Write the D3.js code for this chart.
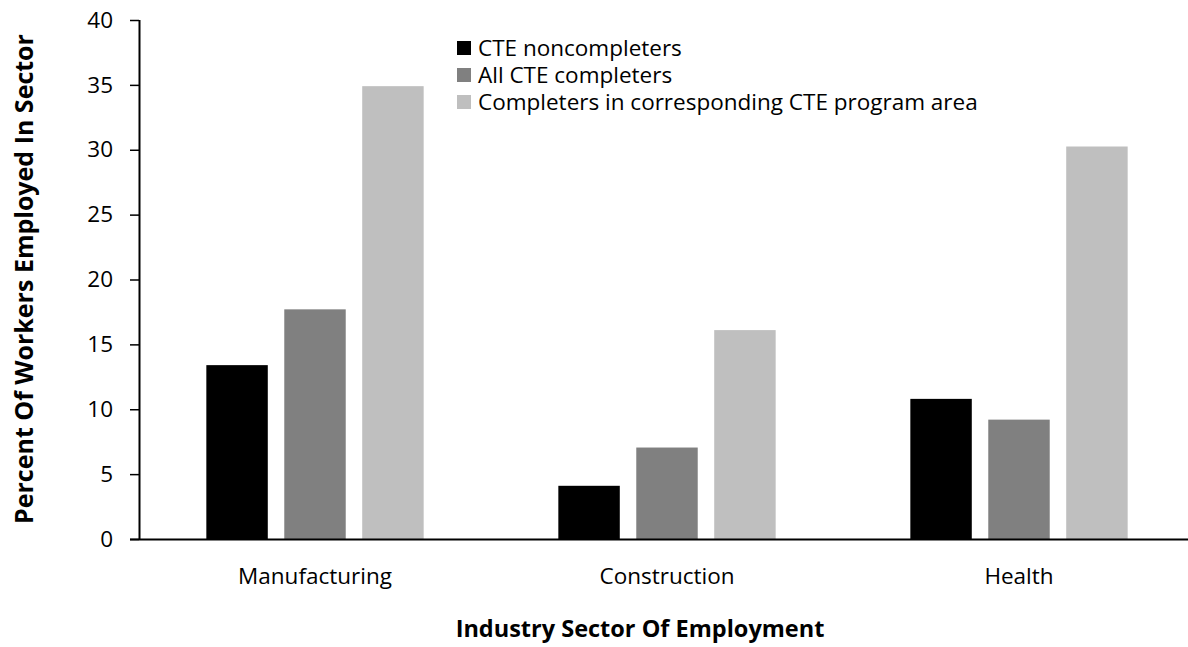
<!DOCTYPE html>
<html>
<head>
<meta charset="utf-8">
<script src="https://cdn.jsdelivr.net/npm/d3@7"></script>
<style>
  html, body { margin: 0; padding: 0; background: #fff; }
  svg { display: block; font-family: "Open Sans", sans-serif; }
</style>
</head>
<body>
<svg id="chart" width="1188" height="647"></svg>
<script>
const categories = ["Manufacturing", "Construction", "Health"];
const seriesNames = ["CTE noncompleters", "All CTE completers", "Completers in corresponding CTE program area"];
const noncompleters = [13.4, 4.1, 10.8];
const allCompleters = [17.7, 7.05, 9.2];
const programArea = [34.9, 16.1, 30.25];
const seriesValues = [noncompleters, allCompleters, programArea];
const seriesColors = ["#000000", "#808080", "#bfbfbf"];
const yTicks = [0, 5, 10, 15, 20, 25, 30, 35, 40];

(function () {
const svg = d3.select("#chart");
const mLeft = 139, mRight = 1195, mTop = 20, mBottom = 539;
const fs = 22.5;

const x = d3.scaleBand().domain(categories).range([mLeft, mRight]).paddingInner(0).paddingOuter(0);
const xs = d3.scaleBand().domain(d3.range(seriesNames.length)).range([0, x.bandwidth()]).paddingInner(0.2115).paddingOuter(0.864);
const y = d3.scaleLinear().domain([0, 40]).range([mBottom, mTop]);

// bars
seriesValues.forEach((vals, si) => {
  svg.append("g").selectAll("rect").data(vals).join("rect")
    .attr("x", (d, i) => x(categories[i]) + xs(si))
    .attr("y", d => y(d))
    .attr("width", xs.bandwidth())
    .attr("height", d => y(0) - y(d))
    .attr("fill", seriesColors[si]);
});

// y axis
const yAxis = svg.append("g").attr("transform", `translate(${mLeft},0)`)
  .call(d3.axisLeft(y).tickValues(yTicks).tickSize(9).tickPadding(17).tickSizeOuter(0));
yAxis.select(".domain").attr("stroke", "#000").attr("stroke-width", 2).attr("d", `M0.5,${mTop}V${mBottom}`);
yAxis.selectAll(".tick line").attr("stroke", "#000").attr("stroke-width", 1.5);
yAxis.selectAll(".tick text").attr("font-size", fs).attr("font-family", "Open Sans").attr("fill", "#000");

// x axis
const xAxis = svg.append("g").attr("transform", `translate(0,${mBottom})`)
  .call(d3.axisBottom(x).tickSize(0).tickPadding(29));
xAxis.select(".domain").attr("stroke", "#000").attr("stroke-width", 2).attr("d", `M${mLeft - 9},0.5H1188`);
xAxis.selectAll(".tick text").attr("font-size", fs).attr("font-family", "Open Sans").attr("fill", "#000");

// axis titles
svg.append("text")
  .attr("x", 640).attr("y", 637)
  .attr("text-anchor", "middle")
  .attr("font-size", 23.5).attr("font-weight", "bold").attr("fill", "#000")
  .text("Industry Sector Of Employment");

svg.append("text")
  .attr("transform", "translate(33,279) rotate(-90)")
  .attr("text-anchor", "middle")
  .attr("font-size", 25).attr("font-weight", "bold").attr("fill", "#000")
  .text("Percent Of Workers Employed In Sector");

// legend
const legend = svg.append("g").attr("transform", "translate(457,48)");
seriesNames.forEach((name, i) => {
  const g = legend.append("g").attr("transform", `translate(0,${i * 27})`);
  g.append("rect").attr("x", 0).attr("y", -7).attr("width", 14).attr("height", 14).attr("fill", seriesColors[i]);
  g.append("text").attr("x", 21).attr("y", 0).attr("dy", "0.35em")
    .attr("font-size", fs).attr("fill", "#000").text(name);
});
})();
</script>
</body>
</html>
